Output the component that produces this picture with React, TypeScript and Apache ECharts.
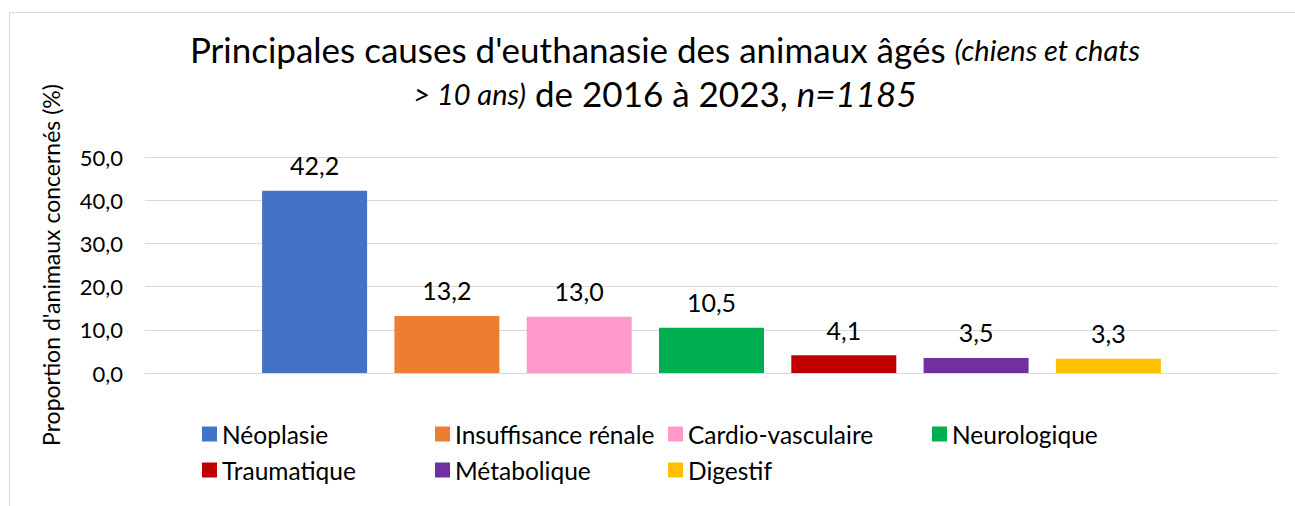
import React, { useEffect, useRef } from "react";
import * as echarts from "echarts";

const causes = [
  "Néoplasie",
  "Insuffisance rénale",
  "Cardio-vasculaire",
  "Neurologique",
  "Traumatique",
  "Métabolique",
  "Digestif",
];
const values = [42.2, 13.2, 13.0, 10.5, 4.1, 3.5, 3.3];
const colors = ["#4472C4", "#ED7D31", "#FF99CC", "#00B050", "#C00000", "#7030A0", "#FFC000"];
const yTicks = [0, 10, 20, 30, 40, 50];

const FONT = "Lato, 'Open Sans', sans-serif";
const fmt = (v: number) => v.toFixed(1).replace(".", ",");

// legend layout (position of each legend entry)
const legendPos = [
  { left: 197, top: 416 },
  { left: 430, top: 416 },
  { left: 663, top: 416 },
  { left: 927, top: 416 },
  { left: 197, top: 452 },
  { left: 430, top: 452 },
  { left: 663, top: 452 },
];

export default function App() {
  const ref = useRef<HTMLDivElement>(null);
  useEffect(() => {
    if (!ref.current) return;
    const chart = echarts.init(ref.current, undefined, { renderer: "svg" });
    const option: any = {
      animation: false,
      backgroundColor: "#ffffff",
      textStyle: { fontFamily: FONT },
      title: {
        left: 660,
        top: 22,
        textAlign: "center",
        text:
          "{n|Principales causes d'euthanasie des animaux âgés }{i|(chiens et chats}\n" +
          "{i|> 10 ans)}{n| de 2016 à 2023, }{ni|n=1185}",
        textStyle: {
          fontWeight: "normal",
          rich: {
            n: { fontFamily: FONT, fontSize: 35, fontWeight: "normal", color: "#000", lineHeight: 44, align: "center" },
            ni: { fontFamily: FONT, fontSize: 35, fontWeight: "normal", fontStyle: "italic", color: "#000", lineHeight: 44, align: "center" },
            i: { fontFamily: FONT, fontSize: 29, fontWeight: "normal", fontStyle: "italic", color: "#000", lineHeight: 44, align: "center" },
          },
        },
      },
      graphic: [
        {
          type: "rect",
          shape: { x: 9.5, y: 12.5, width: 1320, height: 520 },
          style: { fill: "none", stroke: "#d9d9d9", lineWidth: 1 },
          silent: true,
        },
      ],
      legend: causes.map((c, i) => ({
        data: [c],
        left: legendPos[i].left,
        top: legendPos[i].top,
        itemWidth: 15,
        itemHeight: 15,
        icon: "rect",
        selectedMode: false,
        textStyle: { fontFamily: FONT, fontSize: 24.5, color: "#000", lineHeight: 26 },
      })),
      grid: { left: 145, right: 17, top: 157, bottom: 133, containLabel: false },
      xAxis: {
        type: "category",
        data: [""],
        axisLine: { show: true, lineStyle: { color: "#d9d9d9", width: 1 } },
        axisTick: { show: false },
        axisLabel: { show: false },
      },
      yAxis: {
        type: "value",
        min: yTicks[0],
        max: yTicks[yTicks.length - 1],
        interval: 10,
        name: "Proportion d'animaux concernés (%)",
        nameLocation: "middle",
        nameGap: 83,
        nameTextStyle: { fontFamily: FONT, fontSize: 23, color: "#000" },
        axisLine: { show: false },
        axisTick: { show: false },
        splitLine: { lineStyle: { color: "#d9d9d9", width: 1 } },
        axisLabel: {
          formatter: (v: number) => fmt(v),
          fontFamily: FONT,
          fontSize: 22,
          color: "#000",
          margin: 22,
        },
      },
      series: causes.map((c, i) => ({
        type: "bar",
        name: c,
        data: [values[i]],
        barWidth: 105,
        barGap: "26%",
        itemStyle: { color: colors[i] },
        label: {
          show: true,
          position: "top",
          distance: 13,
          formatter: (p: any) => fmt(p.value),
          fontFamily: FONT,
          fontSize: 25,
          color: "#000",
        },
      })),
    };
    chart.setOption(option);
    return () => chart.dispose();
  }, []);
  return (
    <div
      ref={ref}
      style={{ position: "fixed", left: 0, top: 0, width: 1295, height: 506, background: "#fff" }}
    />
  );
}
